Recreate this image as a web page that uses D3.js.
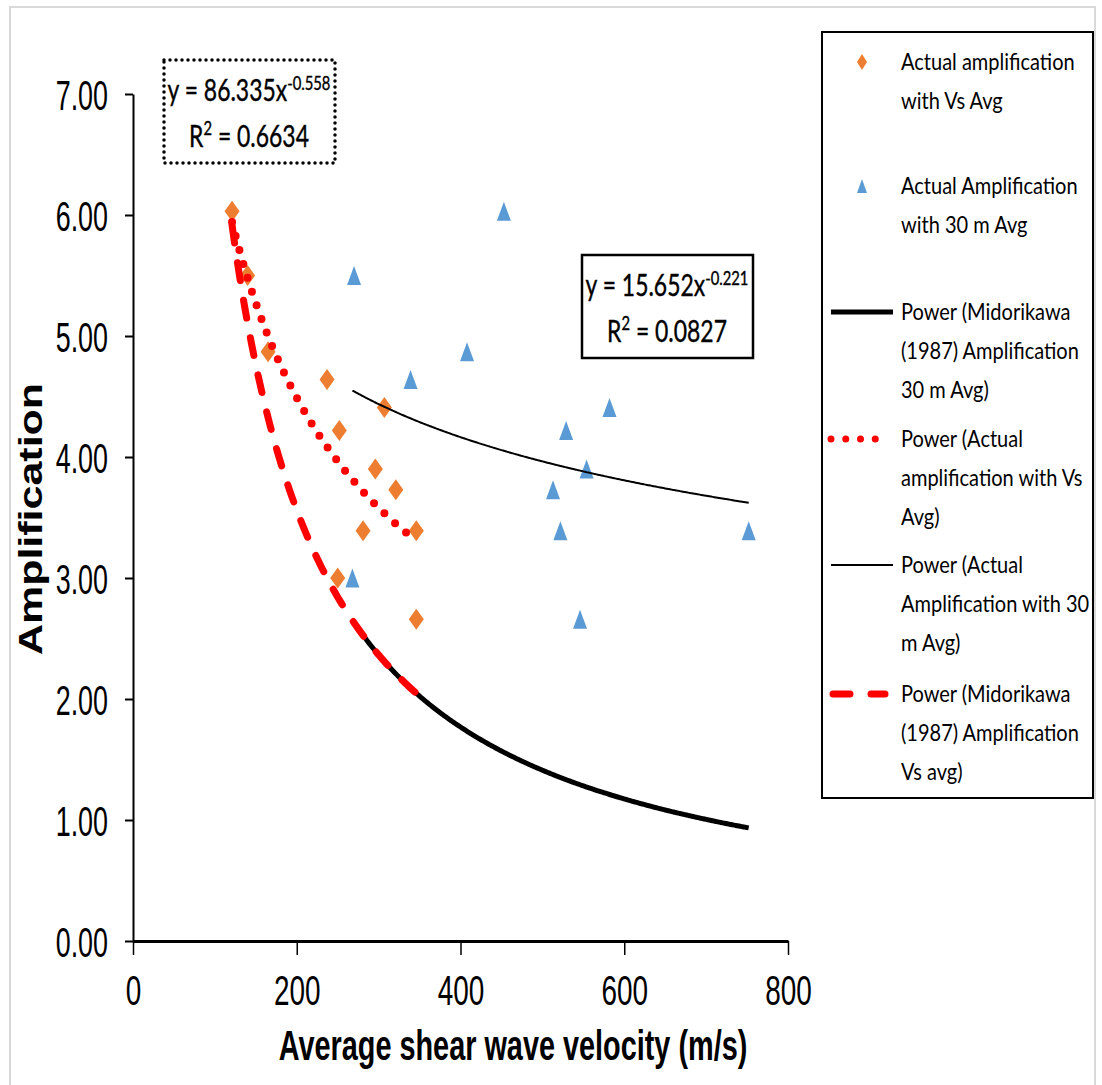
<!DOCTYPE html>
<html>
<head>
<meta charset="utf-8">
<script src="https://cdn.jsdelivr.net/npm/d3@7"></script>
<style>
  body { margin: 0; background: #fff; }
  svg { display: block; }
</style>
</head>
<body>
<svg id="chart"></svg>
<script>
// Data: one amplification per site, two velocity averages
const vsAvg = [121, 140, 165, 237, 307, 252, 296, 321, 281, 346, 250, 346];
const vs30Avg = [453, 270, 408, 339, 582, 529, 554, 513, 522, 752, 268, 546];
const amplification = [6.03, 5.50, 4.87, 4.64, 4.41, 4.22, 3.90, 3.73, 3.39, 3.39, 3.00, 2.66];

// Power trendlines y = a * x^b
const fitActualVs = [86.335, -0.558];
const fitActual30 = [15.652, -0.221];
const fitMidorikawa = [751, -1.01];

const xTicks = [0, 200, 400, 600, 800];
const yTicks = [0, 1, 2, 3, 4, 5, 6, 7];

const legendLabels = [
    ['Actual amplification', 'with Vs Avg'],
    ['Actual Amplification', 'with 30 m Avg'],
    ['Power (Midorikawa', '(1987) Amplification', '30 m Avg)'],
    ['Power (Actual', 'amplification with Vs', 'Avg)'],
    ['Power (Actual', 'Amplification with 30', 'm Avg)'],
    ['Power (Midorikawa', '(1987) Amplification', 'Vs avg)']
];

const width = 1102;
const height = 1085;
const ORANGE = '#ed7d31';
const BLUE = '#5b9bd5';
const RED = '#ff0000';
const ARIAL = '"Liberation Sans", Arial, sans-serif';
const CALIBRI = 'Lato, "Open Sans", sans-serif';

const svg = d3.select('#chart')
    .attr('width', width)
    .attr('height', height);

// Outer frame
svg.append('rect')
    .attr('x', 10).attr('y', 7)
    .attr('width', 1085).attr('height', 1090)
    .attr('fill', 'none')
    .attr('stroke', '#d9d9d9')
    .attr('stroke-width', 2);

const x = d3.scaleLinear().domain([0, 800]).range([133, 788]);
const y = d3.scaleLinear().domain([0, 7]).range([941, 94]);

// Text squeezed horizontally like the source picture
function label(parent, px, py, str, o) {
    return parent.append('text')
        .attr('transform', `translate(${px},${py}) scale(${o.sx || 1},1)` + (o.rotate ? ` rotate(${o.rotate})` : ''))
        .attr('font-family', o.family || ARIAL)
        .attr('font-size', o.size)
        .attr('font-weight', o.weight || 'normal')
        .attr('text-anchor', o.anchor || 'start')
        .attr('fill', '#000')
        .text(str);
}

// Y axis
const yAxis = svg.append('g')
    .attr('transform', `translate(${x(0)},0)`)
    .call(d3.axisLeft(y).tickValues(yTicks).tickSize(8).tickSizeOuter(0).tickFormat(d3.format('.2f')));
yAxis.select('.domain').attr('stroke', '#000').attr('stroke-width', 2);
yAxis.selectAll('.tick line').attr('stroke', '#000').attr('stroke-width', 2);
yAxis.selectAll('.tick text')
    .attr('x', null).attr('dy', null)
    .attr('transform', 'translate(-25,15) scale(0.64,1)')
    .attr('font-family', ARIAL)
    .attr('font-size', 42)
    .attr('fill', '#000');

// X axis
const xAxis = svg.append('g')
    .attr('transform', `translate(0,${y(0)})`)
    .call(d3.axisBottom(x).tickValues(xTicks).tickSize(14).tickSizeOuter(0).tickFormat(d3.format('d')));
xAxis.select('.domain').attr('stroke', '#000').attr('stroke-width', 3);
xAxis.selectAll('.tick line').attr('stroke', '#000').attr('stroke-width', 1.5);
xAxis.selectAll('.tick text')
    .attr('y', null).attr('dy', null)
    .attr('transform', 'translate(0,64) scale(0.65,1)')
    .attr('font-family', ARIAL)
    .attr('font-size', 43)
    .attr('fill', '#000');

// Axis titles
label(svg, 513, 1060, 'Average shear wave velocity (m/s)', { size: 42, weight: 'bold', sx: 0.687, anchor: 'middle' });
label(svg, 42, 519, 'Amplification', { size: 43, weight: 'bold', sx: 0.78, anchor: 'middle', rotate: -90 });

// Marker shapes
const diamond = (w, h) => `M0,${-h}L${w},0L0,${h}L${-w},0Z`;
const triangle = (w, h) => `M0,${-h}L${w},${h}L${-w},${h}Z`;

svg.append('g').selectAll('path')
    .data(vsAvg.map((v, i) => [v, amplification[i]]))
    .join('path')
    .attr('transform', d => `translate(${x(d[0])},${y(d[1])})`)
    .attr('d', diamond(7.5, 10.5))
    .attr('fill', ORANGE);

svg.append('g').selectAll('path')
    .data(vs30Avg.map((v, i) => [v, amplification[i]]))
    .join('path')
    .attr('transform', d => `translate(${x(d[0])},${y(d[1])})`)
    .attr('d', triangle(7, 9.5))
    .attr('fill', BLUE);

// Trendlines, sampled along each series' own x range
function powerCurve(fit, xs) {
    const [lo, hi] = d3.extent(xs);
    const pts = d3.range(lo, hi, 2).concat([hi]);
    return pts.map(v => [v, fit[0] * Math.pow(v, fit[1])]);
}
const line = d3.line().x(d => x(d[0])).y(d => y(d[1])).curve(d3.curveMonotoneX);

const trendStyles = [
    { fit: fitMidorikawa, xs: vs30Avg, color: '#000', w: 5, dash: null },
    { fit: fitActualVs, xs: vsAvg, color: RED, w: 8, dash: '0 14.5', cap: 'round' },
    { fit: fitActual30, xs: vs30Avg, color: '#000', w: 2, dash: null },
    { fit: fitMidorikawa, xs: vsAvg, color: RED, w: 7, dash: '18 20', cap: 'round' }
];

trendStyles.forEach(t => {
    svg.append('path')
        .datum(powerCurve(t.fit, t.xs))
        .attr('d', line)
        .attr('fill', 'none')
        .attr('stroke', t.color)
        .attr('stroke-width', t.w)
        .attr('stroke-dasharray', t.dash)
        .attr('stroke-linecap', t.cap || 'butt');
});

// Equation boxes
function equationBox(bx, by, dotted, coef, expo, r2) {
    const g = svg.append('g');
    g.append('rect')
        .attr('x', bx).attr('y', by)
        .attr('width', 171).attr('height', 103)
        .attr('fill', '#fff')
        .attr('stroke', '#000')
        .attr('stroke-width', dotted ? 3.5 : 2.5)
        .attr('stroke-dasharray', dotted ? '0 6' : null)
        .attr('stroke-linecap', dotted ? 'round' : 'butt');
    const t1 = label(g, bx + 85, by + 41, `y = ${coef}x`, { size: 31, sx: 0.74, anchor: 'middle', family: CALIBRI })
        .attr('stroke', '#000').attr('stroke-width', 0.4);
    t1.append('tspan').attr('dy', -11).attr('font-size', 20).text(expo);
    const t2 = label(g, bx + 85, by + 87, 'R', { size: 31, sx: 0.74, anchor: 'middle', family: CALIBRI })
        .attr('stroke', '#000').attr('stroke-width', 0.4);
    t2.append('tspan').attr('dy', -12).attr('font-size', 20).text('2');
    t2.append('tspan').attr('dy', 12).text(` = ${r2}`);
}
equationBox(164, 60, true, fitActualVs[0], fitActualVs[1], '0.6634');
equationBox(582, 255, false, fitActual30[0], fitActual30[1], '0.0827');

// Legend
const legend = svg.append('g');
legend.append('rect')
    .attr('x', 822).attr('y', 32)
    .attr('width', 271).attr('height', 766)
    .attr('fill', '#fff')
    .attr('stroke', '#000')
    .attr('stroke-width', 2);

const entryY = [62, 186, 312, 439, 565, 694];
legendLabels.forEach((lines, i) => {
    lines.forEach((s, j) => {
        label(legend, 901, entryY[i] + 8 + j * 39, s, { size: 23, sx: 0.87, family: CALIBRI });
    });
});

legend.append('path')
    .attr('transform', `translate(862,${entryY[0]})`)
    .attr('d', diamond(5, 8))
    .attr('fill', ORANGE);
legend.append('path')
    .attr('transform', `translate(862,${entryY[1]})`)
    .attr('d', triangle(5, 7))
    .attr('fill', BLUE);

const legendLines = [
    { y: entryY[2], x1: 831, x2: 893, s: trendStyles[0] },
    { y: entryY[3], x1: 831, x2: 890, s: { color: RED, w: 7, dash: '0 14.75', cap: 'round' } },
    { y: entryY[4], x1: 831, x2: 893, s: trendStyles[2] },
    { y: entryY[5], x1: 833, x2: 885, s: { color: RED, w: 7, dash: '17 21', cap: 'round' } }
];
legendLines.forEach(l => {
    legend.append('line')
        .attr('x1', l.x1).attr('x2', l.x2)
        .attr('y1', l.y).attr('y2', l.y)
        .attr('stroke', l.s.color)
        .attr('stroke-width', l.s.w)
        .attr('stroke-dasharray', l.s.dash)
        .attr('stroke-linecap', l.s.cap || 'butt');
});
</script>
</body>
</html>
